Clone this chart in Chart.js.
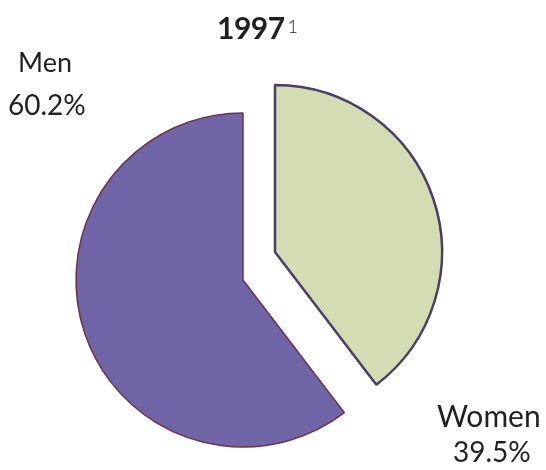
<!DOCTYPE html>
<html>
<head>
<meta charset="utf-8">
<script src="https://cdn.jsdelivr.net/npm/chart.js@4"></script>
<style>
  body { margin: 0; background: #fff; }
  #wrap { position: relative; width: 546px; height: 470px; font-family: Lato, "DejaVu Sans", sans-serif; color: #231f20; }
  canvas { position: absolute; left: 0; top: 0; }
  .lbl { position: absolute; white-space: nowrap; line-height: 1; }
</style>
</head>
<body>
<div id="wrap">
  <canvas id="pieChart" width="546" height="470"></canvas>
  <div class="lbl" id="title" style="left:217px; top:12px; font-size:30px; font-weight:bold; letter-spacing:-0.5px;">1997<span style="font-size:18px; font-weight:300; vertical-align:top; position:relative; top:5px; margin-left:3px;">1</span></div>
</div>
<script>
// chart data
const categories = ['Women', 'Men'];
const shares = [39.5, 60.2];
const sliceColors = ['#d3dcb3', '#7065a6'];
const edgeColors = ['#4b3d63', '#6b3252'];

// label placement: [left, top, font size] for the name line and the value line
const labelSpots = {
  Women: { name: [437, 400, 30], value: [453, 437, 28] },
  Men:   { name: [18, 48, 27],   value: [8, 90, 28] }
};

// pull the women slice out of the pie
const explodePlugin = {
  id: 'explode',
  afterDatasetsUpdate(chart) {
    let arc = chart.getDatasetMeta(0).data[0];
    arc.x += 32;
    arc.y -= 28;
  }
};

function addLabel(text, spot) {
  let el = document.createElement('div');
  el.className = 'lbl';
  el.style.cssText = 'left:' + spot[0] + 'px; top:' + spot[1] + 'px; font-size:' + spot[2] + 'px;';
  el.textContent = text;
  document.getElementById('wrap').appendChild(el);
}

categories.forEach((name, i) => {
  addLabel(name, labelSpots[name].name);
  addLabel(shares[i].toFixed(1) + '%', labelSpots[name].value);
});

let ctx = document.getElementById('pieChart').getContext('2d');
let myPie = new Chart(ctx, {
  type: 'pie',
  data: {
    labels: categories,
    datasets: [{
      data: shares,
      backgroundColor: sliceColors,
      borderColor: edgeColors,
      borderWidth: [2.5, 1.5],
      radius: 167
    }]
  },
  options: {
    responsive: false,
    animation: false,
    rotation: 0,
    layout: { padding: { left: 0, right: 60, top: 90, bottom: 0 } },
    plugins: {
      legend: { display: false },
      tooltip: { enabled: false }
    }
  },
  plugins: [explodePlugin]
});
</script>
</body>
</html>
